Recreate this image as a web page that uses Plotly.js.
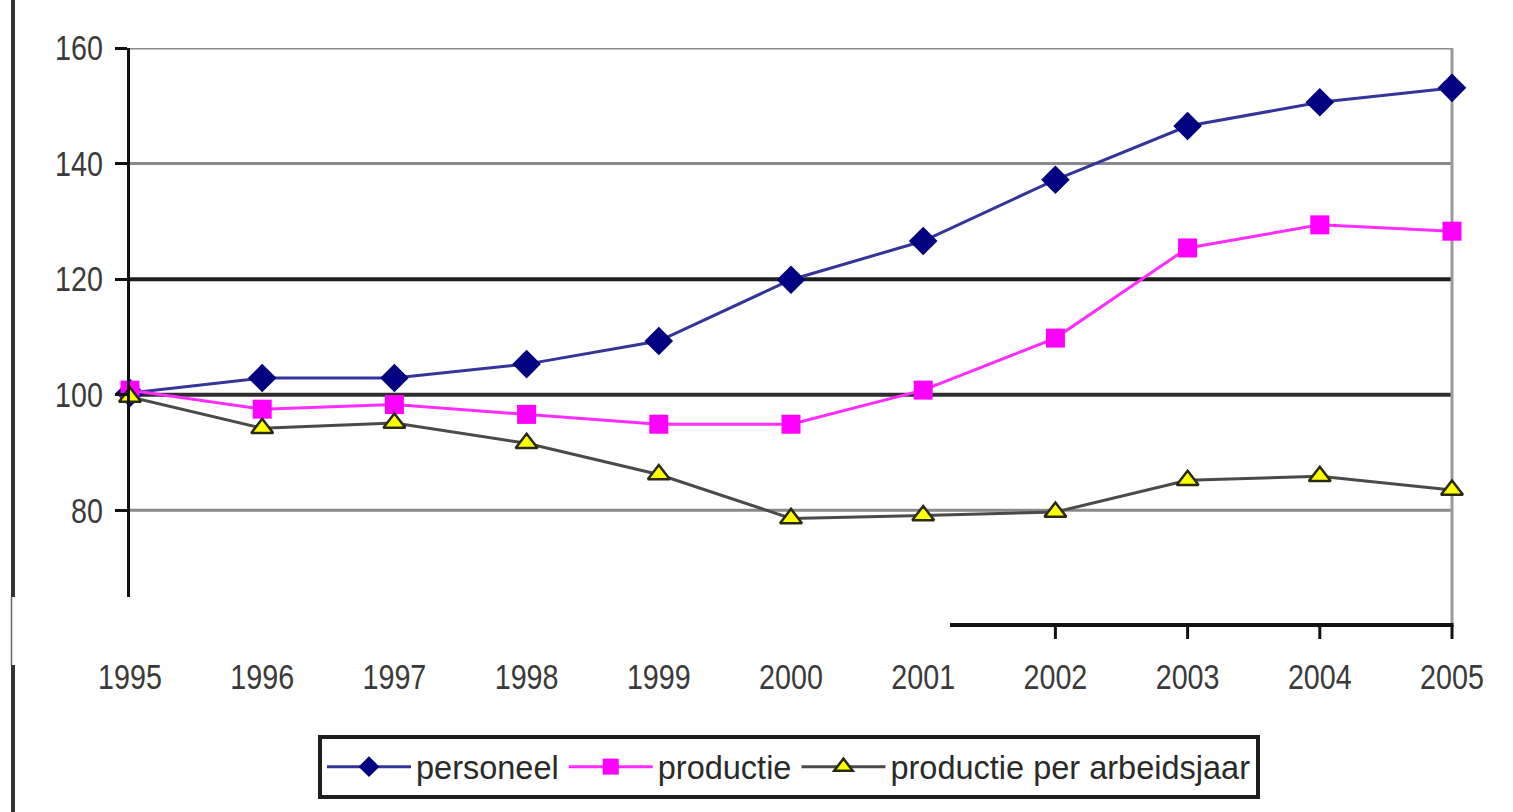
<!DOCTYPE html>
<html>
<head>
<meta charset="utf-8">
<script src="https://cdn.plot.ly/plotly-3.0.1.min.js"></script>
<style>
  html, body { margin: 0; padding: 0; background: #fff; }
  #chart { width: 1513px; height: 812px; }
</style>
</head>
<body>
<div id="chart"></div>
<script>
// Index series, 1995 = 100
const years = [1995, 1996, 1997, 1998, 1999, 2000, 2001, 2002, 2003, 2004, 2005];
const yearLabels = years.map(String);

const personeel = [100.3, 102.9, 102.9, 105.3, 109.3, 119.9, 126.6, 137.2, 146.5, 150.6, 153.1];
const productie = [100.8, 97.5, 98.3, 96.6, 94.9, 94.9, 100.8, 109.8, 125.4, 129.4, 128.3];
const productiePerArbeidsjaar = [99.6, 94.2, 95.1, 91.6, 86.2, 78.6, 79.1, 79.7, 85.2, 85.9, 83.5];

const seriesNames = ['personeel', 'productie', 'productie per arbeidsjaar'];

const yTicks = [80, 100, 120, 140, 160];
const yRange = [65, 160];
// years that carry a tick on the lower (partial) axis segment
const lowerAxisTicks = [2002, 2003, 2004, 2005];

// ---- page geometry (pixels) ----
const W = 1513, H = 812;
const M = { l: 130, r: 61, t: 48, b: 215 };
const plotW = W - M.l - M.r;
const plotH = H - M.t - M.b;
const px = x => (x - M.l) / plotW;          // page x -> paper x
const py = y => (H - M.b - y) / plotH;      // page y -> paper y
const yearPaper = yr => (yr - years[0]) / (years[years.length - 1] - years[0]);

const gridStyle = {
  80:  { color: '#8a8a8a', width: 3 },
  100: { color: '#2e2e2e', width: 4 },
  120: { color: '#1e1e1e', width: 4 },
  140: { color: '#8a8a8a', width: 3 },
  160: { color: '#8a8a8a', width: 3 }
};

const tickFont = { family: '"Liberation Sans", Arial, sans-serif', size: 35, color: '#3a3a3a' };
const tickCondense = 0.82;   // horizontal squeeze applied to tick labels

const traces = [
  {
    x: years, y: personeel, name: seriesNames[0], type: 'scatter', mode: 'lines+markers',
    line: { color: '#34349a', width: 3 },
    marker: { symbol: 'diamond', size: 22, color: '#000080' },
    cliponaxis: false
  },
  {
    x: years, y: productie, name: seriesNames[1], type: 'scatter', mode: 'lines+markers',
    line: { color: '#ff2cff', width: 3 },
    marker: { symbol: 'square', size: 19, color: '#ff00ff' },
    cliponaxis: false
  },
  {
    x: years, y: productiePerArbeidsjaar, name: seriesNames[2], type: 'scatter', mode: 'lines+markers',
    line: { color: '#4a4a4a', width: 3 },
    marker: { symbol: 'triangle-up', size: 19, color: '#ffff00', line: { color: '#2a2a10', width: 2.5 } },
    cliponaxis: false
  }
];

const shapes = [];
// horizontal gridlines
yTicks.forEach(v => {
  shapes.push({
    type: 'line', layer: 'below', xref: 'paper', yref: 'y',
    x0: 0, x1: 1, y0: v, y1: v,
    line: { color: gridStyle[v].color, width: gridStyle[v].width }
  });
});
// right frame edge
shapes.push({
  type: 'line', layer: 'below', xref: 'paper', yref: 'paper',
  x0: 1, x1: 1, y0: py(627), y1: 1,
  line: { color: '#9a9a9a', width: 3 }
});
// lower axis segment with its ticks
shapes.push({
  type: 'line', layer: 'above', xref: 'paper', yref: 'paper',
  x0: px(950), x1: 1 + 1.5 / plotW, y0: py(625), y1: py(625),
  line: { color: '#111', width: 4 }
});
lowerAxisTicks.forEach(yr => {
  shapes.push({
    type: 'line', layer: 'above', xref: 'paper', yref: 'paper',
    x0: yearPaper(yr), x1: yearPaper(yr), y0: py(625), y1: py(639),
    line: { color: '#111', width: 3 }
  });
});
// outer left rule
shapes.push({ type: 'line', xref: 'paper', yref: 'paper', x0: px(13), x1: px(13), y0: py(0), y1: py(597), line: { color: '#333', width: 4 } });
shapes.push({ type: 'line', xref: 'paper', yref: 'paper', x0: px(11.5), x1: px(11.5), y0: py(597), y1: py(665), line: { color: '#666', width: 1.5 } });
shapes.push({ type: 'line', xref: 'paper', yref: 'paper', x0: px(13), x1: px(13), y0: py(665), y1: py(812), line: { color: '#333', width: 4 } });

const layout = {
  width: W, height: H, autosize: false,
  margin: M,
  paper_bgcolor: '#fff', plot_bgcolor: '#fff',
  showlegend: true,
  xaxis: {
    range: [years[0], years[years.length - 1]],
    tickvals: years, ticktext: yearLabels,
    showgrid: false, zeroline: false, showline: false, ticks: '',
    ticklabelstandoff: 56,
    tickfont: tickFont, fixedrange: true
  },
  yaxis: {
    range: yRange,
    tickvals: yTicks, ticktext: yTicks.map(String),
    showgrid: false, zeroline: false,
    showline: true, linecolor: '#111', linewidth: 3,
    ticks: 'outside', ticklen: 12, tickwidth: 3, tickcolor: '#111',
    ticklabelstandoff: 5,
    tickfont: tickFont, fixedrange: true
  },
  legend: {
    orientation: 'h',
    x: px(318), y: py(735), xanchor: 'left', yanchor: 'top',
    bgcolor: '#fff', bordercolor: '#1e1e1e', borderwidth: 4,
    itemwidth: 84,
    font: { family: '"Liberation Sans", Arial, sans-serif', size: 32.5, color: '#2a2a2a' },
    traceorder: 'normal'
  },
  shapes: shapes
};

// narrow the tick labels horizontally, keeping each label's anchor point fixed
function condenseTickLabels(gd) {
  gd.querySelectorAll('.xtick text, .ytick text').forEach(t => {
    const base = (t.getAttribute('transform') || '').replace(/\s*translate\([^)]*\)\s*scale\([^)]*\)\s*translate\([^)]*\)\s*$/, '');
    const ax = parseFloat(t.getAttribute('x')) || 0;
    t.setAttribute('transform',
      (base + ' translate(' + ax + ',0) scale(' + tickCondense + ',1) translate(' + (-ax) + ',0)').trim());
  });
}

Plotly.newPlot('chart', traces, layout, { displayModeBar: false, staticPlot: true })
  .then(gd => condenseTickLabels(gd));
</script>
</body>
</html>
